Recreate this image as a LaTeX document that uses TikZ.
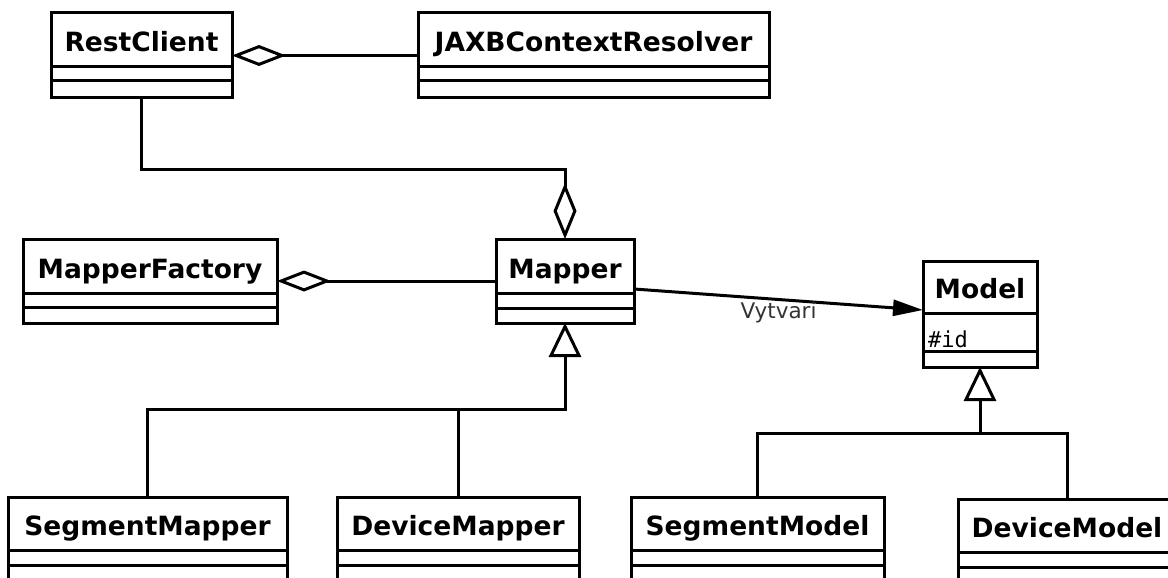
\documentclass[tikz,border=0pt]{standalone}
\usepackage{fontspec}
\usetikzlibrary{arrows.meta}
\newfontfamily\umlsans{DejaVu Sans}
\newfontfamily\umlmono{DejaVu Sans Mono}

\tikzset{
  classbox/.style={draw, line width=3pt, rectangle, inner sep=0pt, outer sep=0pt, fill=white},
  divider/.style={line width=3pt},
  classname/.style={anchor=base, inner sep=0pt, font=\umlsans\bfseries\fontsize{26.5}{30}\selectfont},
  attrtext/.style={anchor=base west, inner sep=0pt, font=\umlmono\fontsize{22}{25}\selectfont},
  link/.style={line width=3pt},
  aggr/.style={link, {Diamond[open, length=#1]}-},
  aggr/.default={54pt, width=21pt},
  inherit/.style={link, -{Triangle[open, length=34pt, width=32pt]}},
  creates/.style={link, -{Triangle[length=30pt, width=16pt]}},
  linklabel/.style={font=\umlsans\fontsize{21.5}{25}\selectfont, text=black!80, inner sep=1.5pt}
}

% class box: name, x, y, width, height, first divider, second divider, title
\newcommand{\umlclass}[8]{%
  \node[classbox, minimum width=#4pt, minimum height=#5pt, anchor=north west] (#1) at (#2,#3) {};
  \draw[divider] ([yshift=-#6pt]#1.north west) -- ([yshift=-#6pt]#1.north east);
  \draw[divider] ([yshift=-#7pt]#1.north west) -- ([yshift=-#7pt]#1.north east);
  \node[classname] (#1-name) at ([yshift={15pt-#6pt}]#1.north) {#8};
}

\begin{document}
\begin{tikzpicture}[x=1pt, y=-1pt]
  \useasboundingbox (0,0) rectangle (1168,578);
  \clip (0,0) rectangle (1168,578);

  % classes
  \umlclass{rc}{51}{13}{181}{85}{54}{68}{RestClient}
  \umlclass{jaxb}{418}{13}{351}{85}{54}{68}{JAXBContextResolver}
  \umlclass{mf}{23}{239}{254}{84}{54}{68}{MapperFactory}
  \umlclass{mapper}{496}{239}{138}{84}{54}{69}{Mapper}
  \umlclass{model}{923}{261}{114}{106}{52}{90}{Model}
  \node[attrtext] (model-id) at ([xshift=5pt, yshift=-86pt]model.north west) {\#id};

  \umlclass{sm}{8}{497}{279}{120}{53}{68}{SegmentMapper}
  \umlclass{dm}{337}{497}{242}{120}{53}{68}{DeviceMapper}
  \umlclass{smo}{631}{497}{253}{120}{53}{68}{SegmentModel}
  \umlclass{dmo}{958}{499}{218}{120}{53}{68}{DeviceModel}

  % aggregations
  \draw[aggr] (rc.east) -- (jaxb.west);
  \draw[aggr] (mf.east) -- (mapper.west);
  \draw[aggr={56pt, width=23pt}] (mapper.north) |- ([yshift=-71pt]rc.south) -- (rc.south);

  % association
  \draw[creates] ([yshift=-8pt]mapper.east) -- node[pos=0.5, anchor=north, linklabel] (lbl) {Vytvari} ([yshift=4pt]model.west);

  % generalizations
  \coordinate (mjoin) at (mapper.south |- 0,409);
  \draw[link] (dm.north) |- (mjoin);
  \draw[inherit] (sm.north) |- (mjoin) -- (mapper.south);

  \coordinate (djoin) at (model.south |- 0,433);
  \draw[link] (dmo.north) |- (djoin);
  \draw[inherit] (smo.north) |- (djoin) -- (model.south);
\end{tikzpicture}
\end{document}
